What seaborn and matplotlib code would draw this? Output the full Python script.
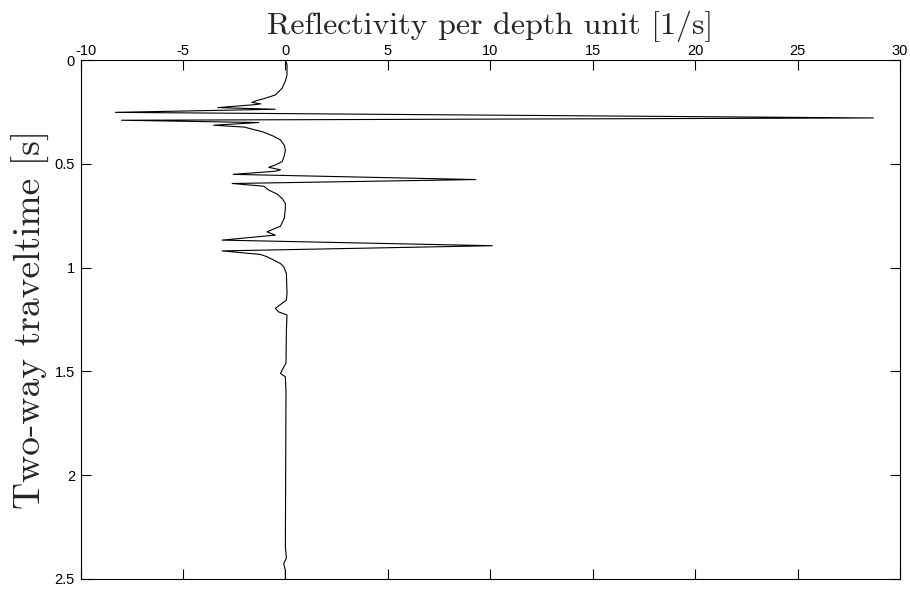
import matplotlib
matplotlib.use("Agg")
import matplotlib.pyplot as plt
import matplotlib.transforms as mtransforms
import seaborn as sns
import pandas as pd

# Two-way traveltime samples [s] and reflectivity per depth unit [1/s]
twt = [0.000, 0.020, 0.070, 0.100, 0.135, 0.167, 0.183, 0.196, 0.203, 0.210,
       0.214, 0.228, 0.236, 0.251, 0.278, 0.289, 0.300, 0.313, 0.322, 0.330,
       0.345, 0.365, 0.384, 0.410, 0.433, 0.460, 0.489, 0.505, 0.516, 0.528,
       0.535, 0.550, 0.575, 0.594, 0.607, 0.626, 0.645, 0.666, 0.690, 0.714,
       0.760, 0.800, 0.827, 0.843, 0.867, 0.894, 0.919, 0.936, 0.947, 0.963,
       0.980, 0.995, 1.028, 1.124, 1.156, 1.196, 1.213, 1.228, 1.300, 1.460,
       1.494, 1.510, 1.526, 1.600, 2.346, 2.400, 2.427, 2.460, 2.500]
refl = [0.00, 0.08, 0.08, 0.00, -0.16, -0.49, -0.98, -1.46, -1.63, -1.20,
        -1.50, -3.30, -0.50, -8.30, 28.70, -8.00, -1.30, -3.50, -2.00, -1.70,
        -1.10, -0.60, -0.24, -0.05, 0.00, -0.05, -0.16, -0.50, -0.81, -0.24,
        -0.50, -2.55, 9.30, -2.60, -1.06, -0.81, -0.40, -0.16, 0.00, 0.00,
        -0.05, -0.24, -0.90, -0.49, -3.09, 10.10, -3.09, -1.22, -0.90, -0.57,
        -0.24, -0.08, 0.05, 0.08, 0.05, -0.49, -0.33, 0.08, 0.05, 0.03,
        -0.16, -0.24, 0.00, 0.03, 0.00, 0.05, -0.08, 0.00, 0.00]

xticks = [-10, -5, 0, 5, 10, 15, 20, 25, 30]
xticklabels = ["-10", "-5", "0", "5", "10", "15", "20", "25", "30"]
yticks = [0, 0.5, 1, 1.5, 2, 2.5]
yticklabels = ["0", "0.5", "1", "1.5", "2", "2.5"]

df = pd.DataFrame({"twt": twt, "refl": refl})

sns.set_style("ticks")
plt.rcParams["font.family"] = ["Liberation Sans", "DejaVu Sans"]
plt.rcParams["axes.unicode_minus"] = False

fig = plt.figure(figsize=(9.1, 5.9), dpi=100)
ax = fig.add_axes([80.5 / 910, 1 - 578.8 / 590, (900 - 80.5) / 910, (578.8 - 60.3) / 590])

sns.lineplot(data=df, x="refl", y="twt", sort=False, estimator=None,
             color="black", linewidth=0.8, ax=ax)

ax.set_xlim(-10, 30)
ax.set_ylim(2.5, 0)
ax.set_xticks(xticks)
ax.set_xticklabels(xticklabels)
ax.set_yticks(yticks)
ax.set_yticklabels(yticklabels)
ax.xaxis.set_label_position("top")
ax.tick_params(axis="x", top=True, bottom=True, labeltop=True, labelbottom=False,
               direction="in", length=7, width=0.8, labelsize=10.5, pad=2, colors="black")
ax.tick_params(axis="y", left=True, right=True, direction="in", length=7, width=0.8,
               labelsize=10.5, pad=4, colors="black")
for s in ax.spines.values():
    s.set_visible(True)
    s.set_color("black")
    s.set_linewidth(0.8)

# nudge the "-10" label slightly right, as in the reference
offset = mtransforms.ScaledTranslation(6 / 100, 0, fig.dpi_scale_trans)
first = ax.xaxis.get_major_ticks()[0]
first.label2.set_transform(first.label2.get_transform() + offset)

ax.set_xlabel("Reflectivity per depth unit [1/s]", fontfamily="cmr10", fontsize=23, labelpad=7)
ax.set_ylabel("Two-way traveltime [s]", fontfamily="cmr10", fontsize=27, labelpad=3)

fig.savefig("out.png", dpi=100)
